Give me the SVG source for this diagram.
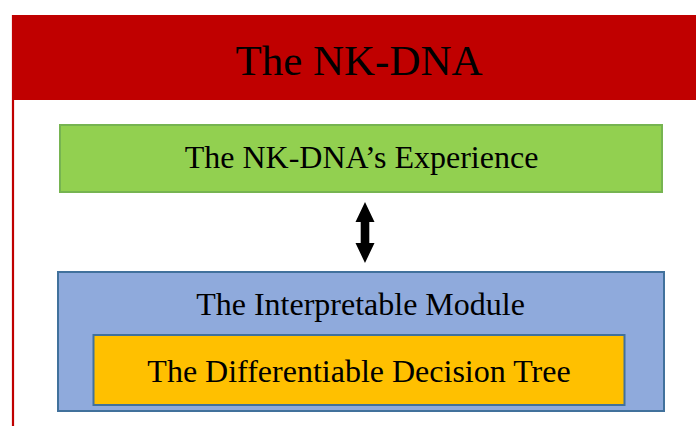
<svg xmlns="http://www.w3.org/2000/svg" width="696" height="426" viewBox="0 0 696 426">
<style>
text{font-family:"Liberation Serif","Times New Roman",serif;fill:#000;text-anchor:middle}
.t{font-size:32px}
</style>
<rect width="696" height="426" fill="#fff"/>
<g id="frame">
<rect x="12" y="15" width="684" height="85" fill="#C00000"/>
<line x1="13" y1="15" x2="13" y2="426" stroke="#C00000" stroke-width="2.2"/>
<text x="359" y="75" font-size="43">The NK-DNA</text>
</g>
<g id="experience">
<rect x="60" y="125" width="602" height="67" fill="#92D050" stroke="#76B451" stroke-width="2"/>
<text class="t" x="361.5" y="168">The NK-DNA’s Experience</text>
</g>
<g id="connectors">
<path d="M365,202 L374.5,222 L369.3,222 L369.3,243 L374.5,243 L365,263 L355.5,243 L360.7,243 L360.7,222 L355.5,222 Z" fill="#000"/>
</g>
<g id="module">
<rect x="58" y="272" width="606" height="139" fill="#8FAADC" stroke="#41719C" stroke-width="2"/>
<text class="t" x="360.5" y="315">The Interpretable Module</text>
</g>
<g id="tree">
<rect x="93.5" y="335" width="531" height="70" fill="#FFC000" stroke="#41719C" stroke-width="2"/>
<text class="t" x="359" y="382">The Differentiable Decision Tree</text>
</g>
</svg>
